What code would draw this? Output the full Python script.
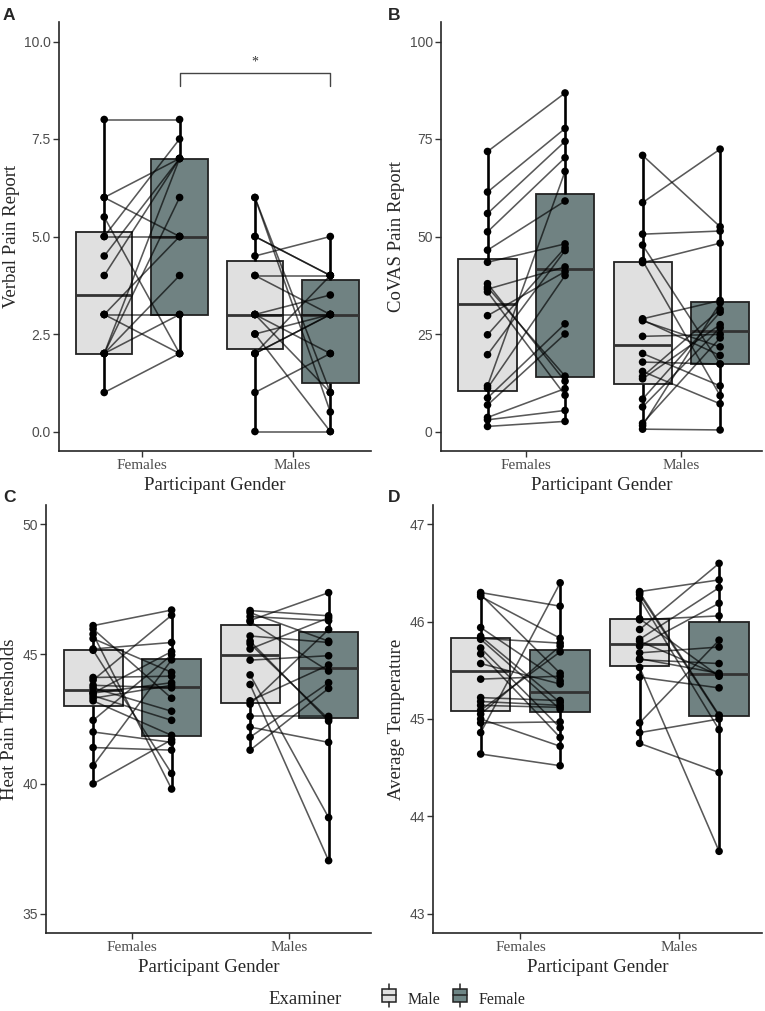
import numpy as np, pandas as pd, seaborn as sns, matplotlib.pyplot as plt
from matplotlib.legend_handler import HandlerBase
from matplotlib.patches import Rectangle, Patch
from matplotlib.lines import Line2D

GENDERS = ["Females", "Males"]
EXAMINERS = ["Male", "Female"]
PALETTE = {"Male": "#e0e0e0", "Female": "#6d8585"}

# paired values: same index = same participant (male examiner, female examiner)
verbal_fem_mx = [8, 6, 6, 5.5, 5, 5, 4.5, 4, 3, 3, 3, 2, 2, 2, 2, 1]
verbal_fem_fx = [8, 7, 5, 2, 5, 7.5, 7, 7, 5, 2, 3, 7, 4, 3, 6, 2]
verbal_mal_mx = [6, 6, 5, 5, 4.5, 4, 4, 3, 3, 3, 3, 2.5, 2.5, 2, 2, 2, 1, 0]
verbal_mal_fx = [1, 0.5, 4, 4, 5, 4, 3, 3, 1, 3.5, 2, 0, 3, 4, 3, 3, 2, 0]

covas_fem_mx = [71.8, 61.4, 55.9, 51.2, 46.5, 43.4, 37.9, 37.0, 36.5, 35.8,
                29.7, 24.8, 19.7, 11.7, 11.1, 8.6, 6.8, 3.6, 3.0, 1.3]
covas_fem_fx = [86.8, 77.7, 74.4, 70.2, 59.1, 48.1, 12.9, 14.2, 42.2, 9.3,
                41.0, 47.1, 46.4, 66.7, 40.0, 27.6, 25.0, 11.0, 5.4, 2.6]
covas_mal_mx = [70.8, 58.7, 50.6, 47.8, 43.3, 43.8, 28.9, 28.4, 28.6, 24.4,
                20.0, 17.8, 15.4, 14.1, 13.5, 8.3, 6.3, 2.1, 1.5, 0.6]
covas_mal_fx = [52.5, 72.4, 51.4, 17.3, 48.3, 9.2, 33.6, 21.7, 19.5, 24.9,
                11.7, 17.3, 7.1, 31.3, 27.4, 30.6, 26.6, 24.0, 33.0, 0.4]

heat_fem_mx = [46.1, 45.97, 45.77, 45.6, 45.2, 45.15, 44.1, 44.0, 43.8, 43.7,
               43.5, 43.5, 43.4, 43.3, 43.2, 42.45, 42.0, 41.4, 40.7, 40.0]
heat_fem_fx = [46.7, 43.3, 39.8, 44.3, 45.45, 40.4, 44.15, 46.5, 43.7, 42.8,
               45.1, 43.9, 42.45, 43.8, 41.87, 44.97, 41.6, 41.3, 44.78, 41.7]
heat_mal_mx = [46.68, 46.6, 46.45, 46.3, 46.25, 45.7, 45.5, 45.4, 45.2, 44.77,
               44.2, 43.83, 43.2, 43.07, 42.6, 42.19, 41.8, 41.3]
heat_mal_fx = [46.48, 45.5, 46.29, 47.37, 44.35, 45.45, 42.42, 42.5, 46.4, 44.94,
               38.7, 37.04, 44.58, 45.95, 42.6, 41.6, 43.9, 43.68]

temp_fem_mx = [46.30, 46.28, 46.26, 45.94, 45.85, 45.83, 45.82, 45.73, 45.67, 45.57,
               45.41, 45.22, 45.18, 45.14, 45.09, 45.05, 45.0, 44.96, 44.86, 44.64]
temp_fem_fx = [46.16, 45.47, 45.83, 45.39, 45.17, 45.78, 45.1, 44.91, 44.81, 45.36,
               45.44, 45.19, 45.14, 45.12, 45.69, 45.75, 44.72, 44.97, 46.4, 44.52]
temp_mal_mx = [46.31, 46.3, 46.28, 46.24, 46.03, 46.02, 45.92, 45.82, 45.8, 45.75,
               45.68, 45.62, 45.61, 45.53, 45.43, 44.96, 44.86, 44.75]
temp_mal_fx = [46.43, 45.04, 45.03, 44.89, 45.44, 46.06, 46.6, 46.35, 45.45, 46.19,
               45.74, 45.47, 45.57, 43.64, 45.32, 45.81, 45.0, 44.45]

SERIF = "Liberation Serif"
SANS = "Liberation Sans"


def long_df(fem_mx, fem_fx, mal_mx, mal_fx):
    rows = []
    for g, mx, fx in [("Females", fem_mx, fem_fx), ("Males", mal_mx, mal_fx)]:
        for i, (a, b) in enumerate(zip(mx, fx)):
            rows.append((f"{g}{i}", g, "Male", a))
            rows.append((f"{g}{i}", g, "Female", b))
    return pd.DataFrame(rows, columns=["pid", "gender", "examiner", "value"])


def panel(ax, df, ylabel, ylim, yticks, fmt):
    sns.boxplot(data=df, x="gender", y="value", hue="examiner", order=GENDERS,
                hue_order=EXAMINERS, palette=PALETTE, width=1.0, gap=0.25,
                whis=(0, 100), showfliers=False, showcaps=False, linecolor="#222222",
                linewidth=1.3, legend=False, ax=ax,
                medianprops=dict(color="#333333", linewidth=2),
                whiskerprops=dict(color="black", linewidth=1.9))
    df = df.assign(xpos=df["gender"].map({g: i for i, g in enumerate(GENDERS)})
                   + df["examiner"].map({"Male": -0.25, "Female": 0.25}))
    sns.lineplot(data=df, x="xpos", y="value", units="pid", estimator=None,
                 color="black", alpha=0.65, lw=1.15, ax=ax, zorder=3)
    sns.scatterplot(data=df, x="xpos", y="value", color="black", s=30,
                    edgecolor="none", ax=ax, zorder=4, legend=False)
    ax.set_xlim(-0.55, 1.52)
    ax.set_ylim(*ylim)
    ax.set_xticks([0, 1], GENDERS, fontfamily=SERIF, fontsize=11, color="#4d4d4d")
    ax.set_yticks(yticks, [fmt.format(v) for v in yticks], fontfamily=SANS,
                  fontsize=10, color="#4d4d4d")
    ax.set_xlabel("Participant Gender", fontfamily=SERIF, fontsize=13.5, labelpad=3)
    ax.set_ylabel(ylabel, fontfamily=SERIF, fontsize=13.5, labelpad=3)
    sns.despine(ax=ax)
    for s in ["left", "bottom"]:
        ax.spines[s].set_linewidth(1.2)
    ax.tick_params(length=4, width=1, color="#333333", pad=2)


class BoxHandler(HandlerBase):
    def create_artists(self, legend, orig, xd, yd, w, h, fs, trans):
        cx = xd + w / 2
        x0, x1 = xd + w * 0.1, xd + w * 0.9
        r = Rectangle((x0, yd + h * 0.05), x1 - x0, h * 0.9, facecolor=orig.get_facecolor(),
                      edgecolor="#222222", lw=1.1, transform=trans)
        med = Line2D([x0, x1], [yd + h / 2] * 2, color="#222222", lw=1.1, transform=trans)
        lo = Line2D([cx, cx], [yd - h * 0.3, yd + h * 0.05], color="#222222", lw=1.1, transform=trans)
        hi = Line2D([cx, cx], [yd + h * 0.95, yd + h * 1.3], color="#222222", lw=1.1, transform=trans)
        return [r, med, lo, hi]


sns.set_theme(style="ticks")
plt.rcParams["font.family"] = [SANS, "DejaVu Sans"]

fig = plt.figure(figsize=(7.65, 10.11), dpi=100)
W, H = 765, 1011
def axes_px(l, r, t, b):
    return fig.add_axes([l / W, 1 - b / H, (r - l) / W, (b - t) / H])

axA = axes_px(59, 371, 22, 451)
axB = axes_px(441, 762, 22, 451)
axC = axes_px(46, 371, 505, 933)
axD = axes_px(433, 762, 505, 933)

panel(axA, long_df(verbal_fem_mx, verbal_fem_fx, verbal_mal_mx, verbal_mal_fx),
      "Verbal Pain Report", (-0.5, 10.5), [0, 2.5, 5, 7.5, 10], "{:.1f}")
panel(axB, long_df(covas_fem_mx, covas_fem_fx, covas_mal_mx, covas_mal_fx),
      "CoVAS Pain Report", (-5, 105), [0, 25, 50, 75, 100], "{:g}")
panel(axC, long_df(heat_fem_mx, heat_fem_fx, heat_mal_mx, heat_mal_fx),
      "Heat Pain Thresholds", (34.25, 50.75), [35, 40, 45, 50], "{:g}")
panel(axD, long_df(temp_fem_mx, temp_fem_fx, temp_mal_mx, temp_mal_fx),
      "Average Temperature", (42.8, 47.2), [43, 44, 45, 46, 47], "{:g}")

# significance bracket between female-examiner boxes
axA.plot([0.25, 0.25, 1.25, 1.25], [8.85, 9.2, 9.2, 8.85], color="#444444", lw=1)
axA.text(0.75, 9.3, "*", ha="center", va="bottom", fontsize=10, fontfamily=SERIF, color="#333333")

for letter, x, y in [("A", 3, 8), ("B", 388, 8), ("C", 3, 490), ("D", 388, 490)]:
    fig.text(x / W, 1 - y / H, letter, fontsize=12.5, fontweight="bold", fontfamily=SANS,
             ha="left", va="top")

handles = [Patch(facecolor=PALETTE[e]) for e in EXAMINERS]
fig.text(305 / W, 1 - 1000 / H, "Examiner", fontfamily=SERIF, fontsize=13.5,
         ha="center", va="center")
fig.legend(handles, EXAMINERS, handler_map={Patch: BoxHandler()}, loc="center left",
           bbox_to_anchor=(366 / W, 1 - 1000 / H), ncol=2, frameon=False,
           handlelength=1.1, handleheight=1.0, handletextpad=0.6, columnspacing=0.7,
           prop={"family": SERIF, "size": 11.5})

fig.savefig("out.png", dpi=100)
